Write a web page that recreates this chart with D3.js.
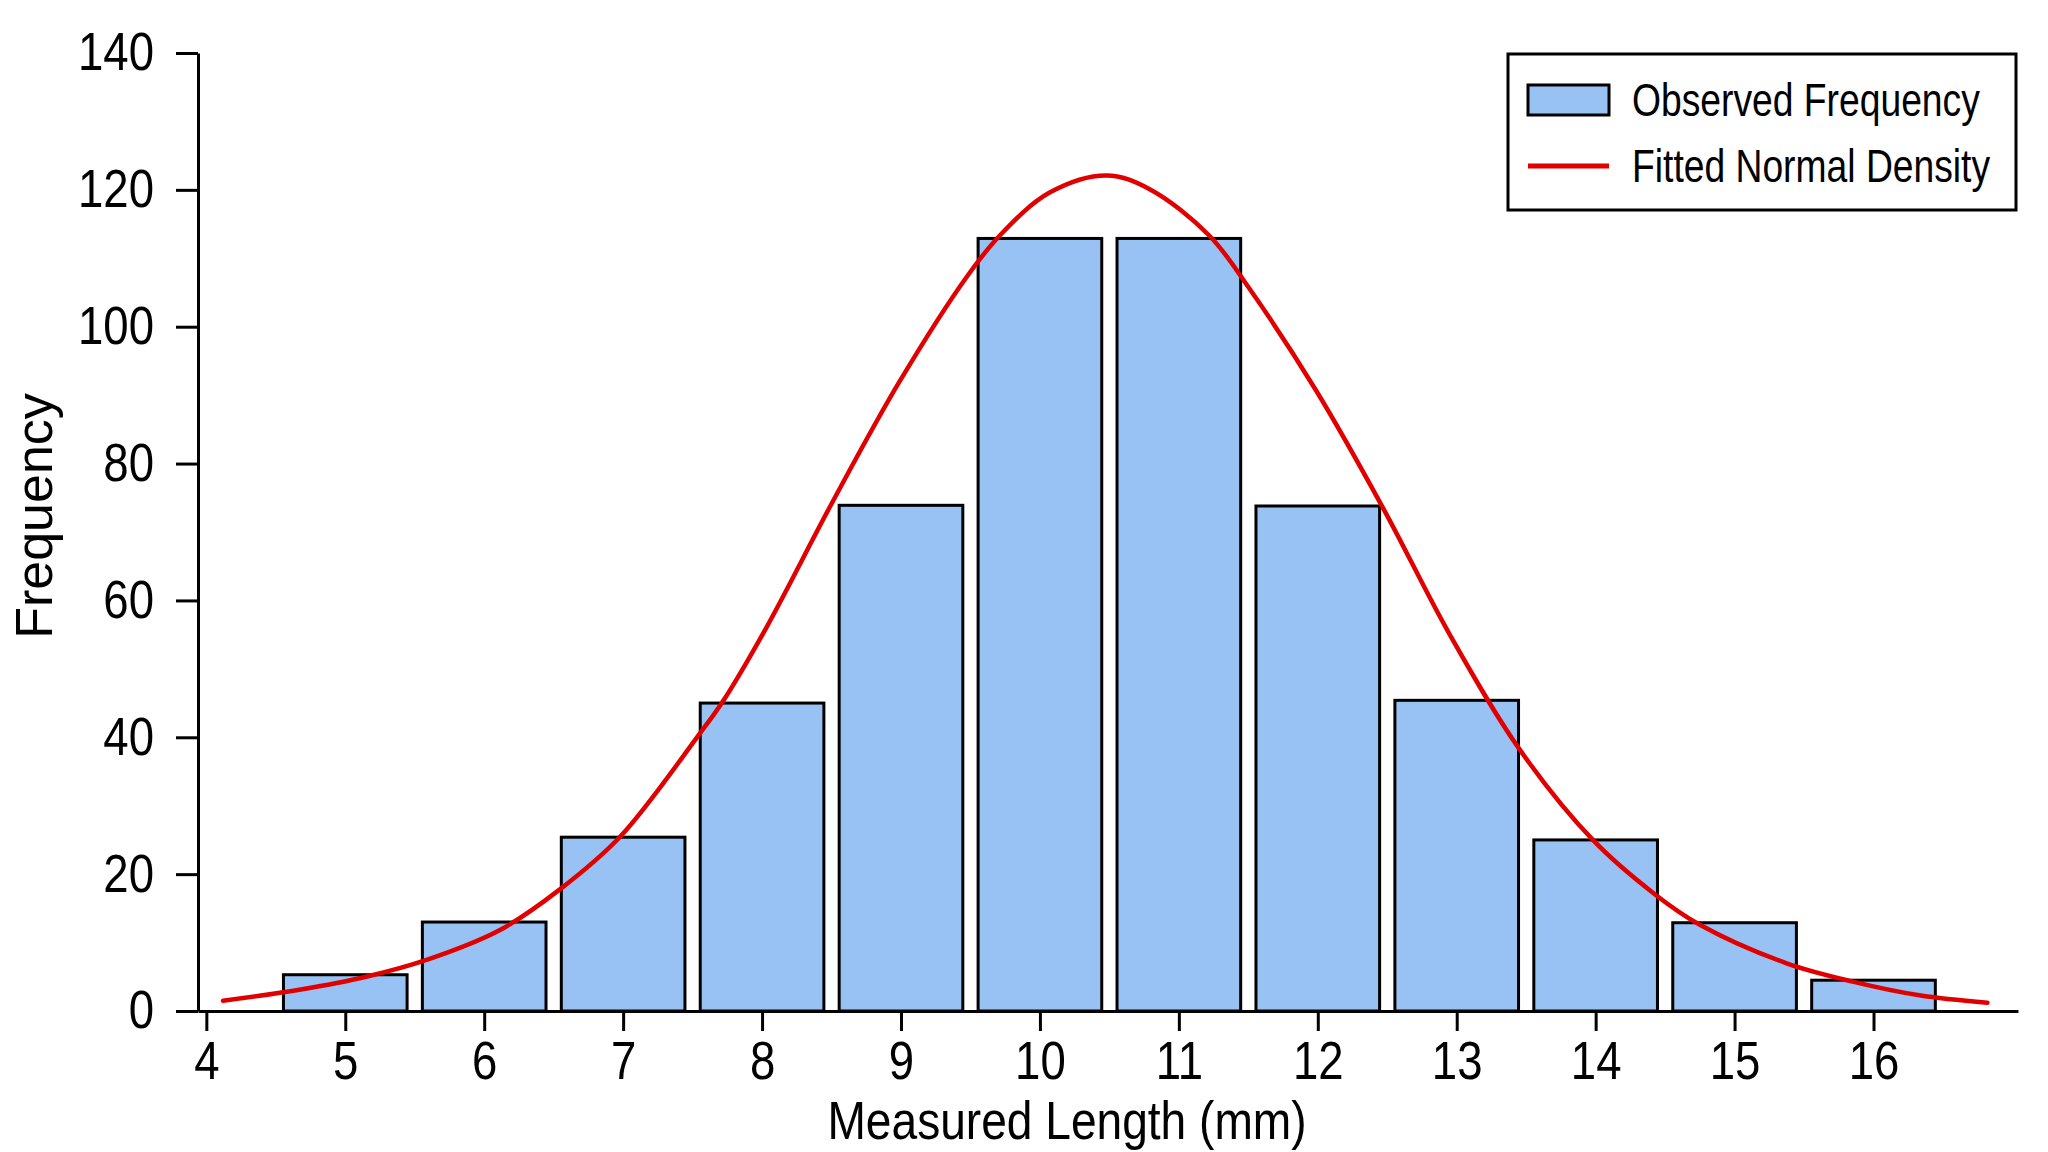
<!DOCTYPE html>
<html>
<head>
<meta charset="utf-8">
<script src="https://cdn.jsdelivr.net/npm/d3@7"></script>
<style>
    body { margin: 0; background: white; }
    svg { display: block; }
</style>
</head>
<body>
<script>
// histogram bins (mm) and observed counts
const binCenters = [5, 6, 7, 8, 9, 10, 11, 12, 13, 14, 15, 16]
const frequencies = [5.3, 13, 25.4, 45, 73.9, 112.9, 112.9, 73.8, 45.4, 25, 12.9, 4.5]

// fitted normal density (length, frequency)
const curveX = [4.12, 4.67, 5.15, 5.59, 6.11, 6.54, 6.98, 7.55, 7.71, 8.03, 8.51, 8.99, 9.47, 9.71,
    10.07, 10.48, 10.79, 11.22, 11.51, 11.99, 12.47, 12.95, 13.45, 13.98, 14.43, 14.75, 15.37,
    15.85, 16.33, 16.82]
const curveY = [1.5, 3.1, 5.0, 7.5, 11.8, 17.7, 25.5, 40.5, 45.0, 56.0, 74.5, 92.0, 107.2, 113.3,
    119.6, 122.1, 120.1, 113.3, 105.5, 90.6, 73.5, 55.0, 38.3, 25.0, 17.0, 12.6, 7.0,
    4.3, 2.3, 1.2]

const xTicks = [4, 5, 6, 7, 8, 9, 10, 11, 12, 13, 14, 15, 16]
const yTicks = [0, 20, 40, 60, 80, 100, 120, 140]

const legendLabels = ['Observed Frequency', 'Fitted Normal Density']

const barColor = '#98c2f3'
const lineColor = '#e10000'
const font = "'Liberation Sans', Arial, sans-serif"
const squeeze = 0.86   // the labels in the picture are a condensed face

const margin = {
    top: 53,
    right: 30,
    bottom: 141,
    left: 198,
};
const width = 2048 - margin.left - margin.right;
const height = 1152 - margin.top - margin.bottom;

const svgRoot = d3.select("body")
    .append("svg")
    .attr("width", width + margin.left + margin.right)
    .attr("height", height + margin.top + margin.bottom)
    .style("background", "white")
    .style("font-family", font)

const svg = svgRoot.append("g")
    .attr("transform", `translate(${margin.left}, ${margin.top})`);

const xScale = d3.scaleLinear()
    .domain([3.94, 17.04])
    .range([0, width]);

const yScale = d3.scaleLinear()
    .domain([0, 140])
    .range([height, 0]);

const binWidth = 0.89

const bars = binCenters.map((c, i) => ({ center: c, value: frequencies[i] }))

svg.selectAll("rect.bar")
    .data(bars).enter()
    .append("rect")
    .attr("class", "bar")
    .attr("x", d => xScale(d.center - binWidth / 2))
    .attr("width", d => xScale(d.center + binWidth / 2) - xScale(d.center - binWidth / 2))
    .attr("y", d => yScale(d.value))
    .attr("height", d => yScale(0) - yScale(d.value))
    .attr("fill", barColor)
    .attr("stroke", "black")
    .attr("stroke-width", 3)

const curvePoints = curveX.map((x, i) => [x, curveY[i]])

const line = d3.line()
    .x(d => xScale(d[0]))
    .y(d => yScale(d[1]))
    .curve(d3.curveCatmullRom.alpha(0.5))

svg.append("path")
    .datum(curvePoints)
    .attr("d", line)
    .attr("fill", "none")
    .attr("stroke", lineColor)
    .attr("stroke-width", 4.5)
    .attr("stroke-linecap", "round")

// axes
const xAxis = d3.axisBottom(xScale)
    .tickValues(xTicks)
    .tickSize(20)
    .tickSizeOuter(0)
    .tickPadding(10)
    .tickFormat(d3.format("d"))

const yAxis = d3.axisLeft(yScale)
    .tickValues(yTicks)
    .tickSize(22)
    .tickSizeOuter(0)

const gx = svg.append("g")
    .attr("transform", `translate(0, ${height})`)
    .call(xAxis)

const gy = svg.append("g")
    .call(yAxis)

for (const g of [gx, gy]) {
    g.select(".domain").attr("stroke", "black").attr("stroke-width", 3)
    g.selectAll(".tick line").attr("stroke", "black").attr("stroke-width", 3)
    g.selectAll(".tick text")
        .attr("fill", "black")
        .style("font-family", font)
        .style("font-size", "53px")
        .attr("transform", `scale(${squeeze},1)`)
}
gy.selectAll(".tick text").attr("x", -44 / squeeze)

svgRoot.append("text")
    .attr("transform", `translate(1067, 1139) scale(0.87,1)`)
    .attr("text-anchor", "middle")
    .style("font-size", "53px")
    .text("Measured Length (mm)")

svgRoot.append("text")
    .attr("transform", "translate(52, 516) rotate(-90)")
    .attr("text-anchor", "middle")
    .style("font-size", "52px")
    .text("Frequency")

// legend
const legend = svgRoot.append("g")

legend.append("rect")
    .attr("x", 1508)
    .attr("y", 54)
    .attr("width", 508)
    .attr("height", 156)
    .attr("fill", "white")
    .attr("stroke", "black")
    .attr("stroke-width", 3)

legend.append("rect")
    .attr("x", 1528)
    .attr("y", 85)
    .attr("width", 81)
    .attr("height", 30)
    .attr("fill", barColor)
    .attr("stroke", "black")
    .attr("stroke-width", 3)

legend.append("line")
    .attr("x1", 1528)
    .attr("x2", 1609)
    .attr("y1", 166)
    .attr("y2", 166)
    .attr("stroke", lineColor)
    .attr("stroke-width", 5)

legend.selectAll("text.lab")
    .data(legendLabels).enter()
    .append("text")
    .attr("class", "lab")
    .attr("transform", (d, i) => `translate(1632, ${116 + i * 66}) scale(0.81,1)`)
    .style("font-size", "46px")
    .text(d => d)
</script>
</body>
</html>
